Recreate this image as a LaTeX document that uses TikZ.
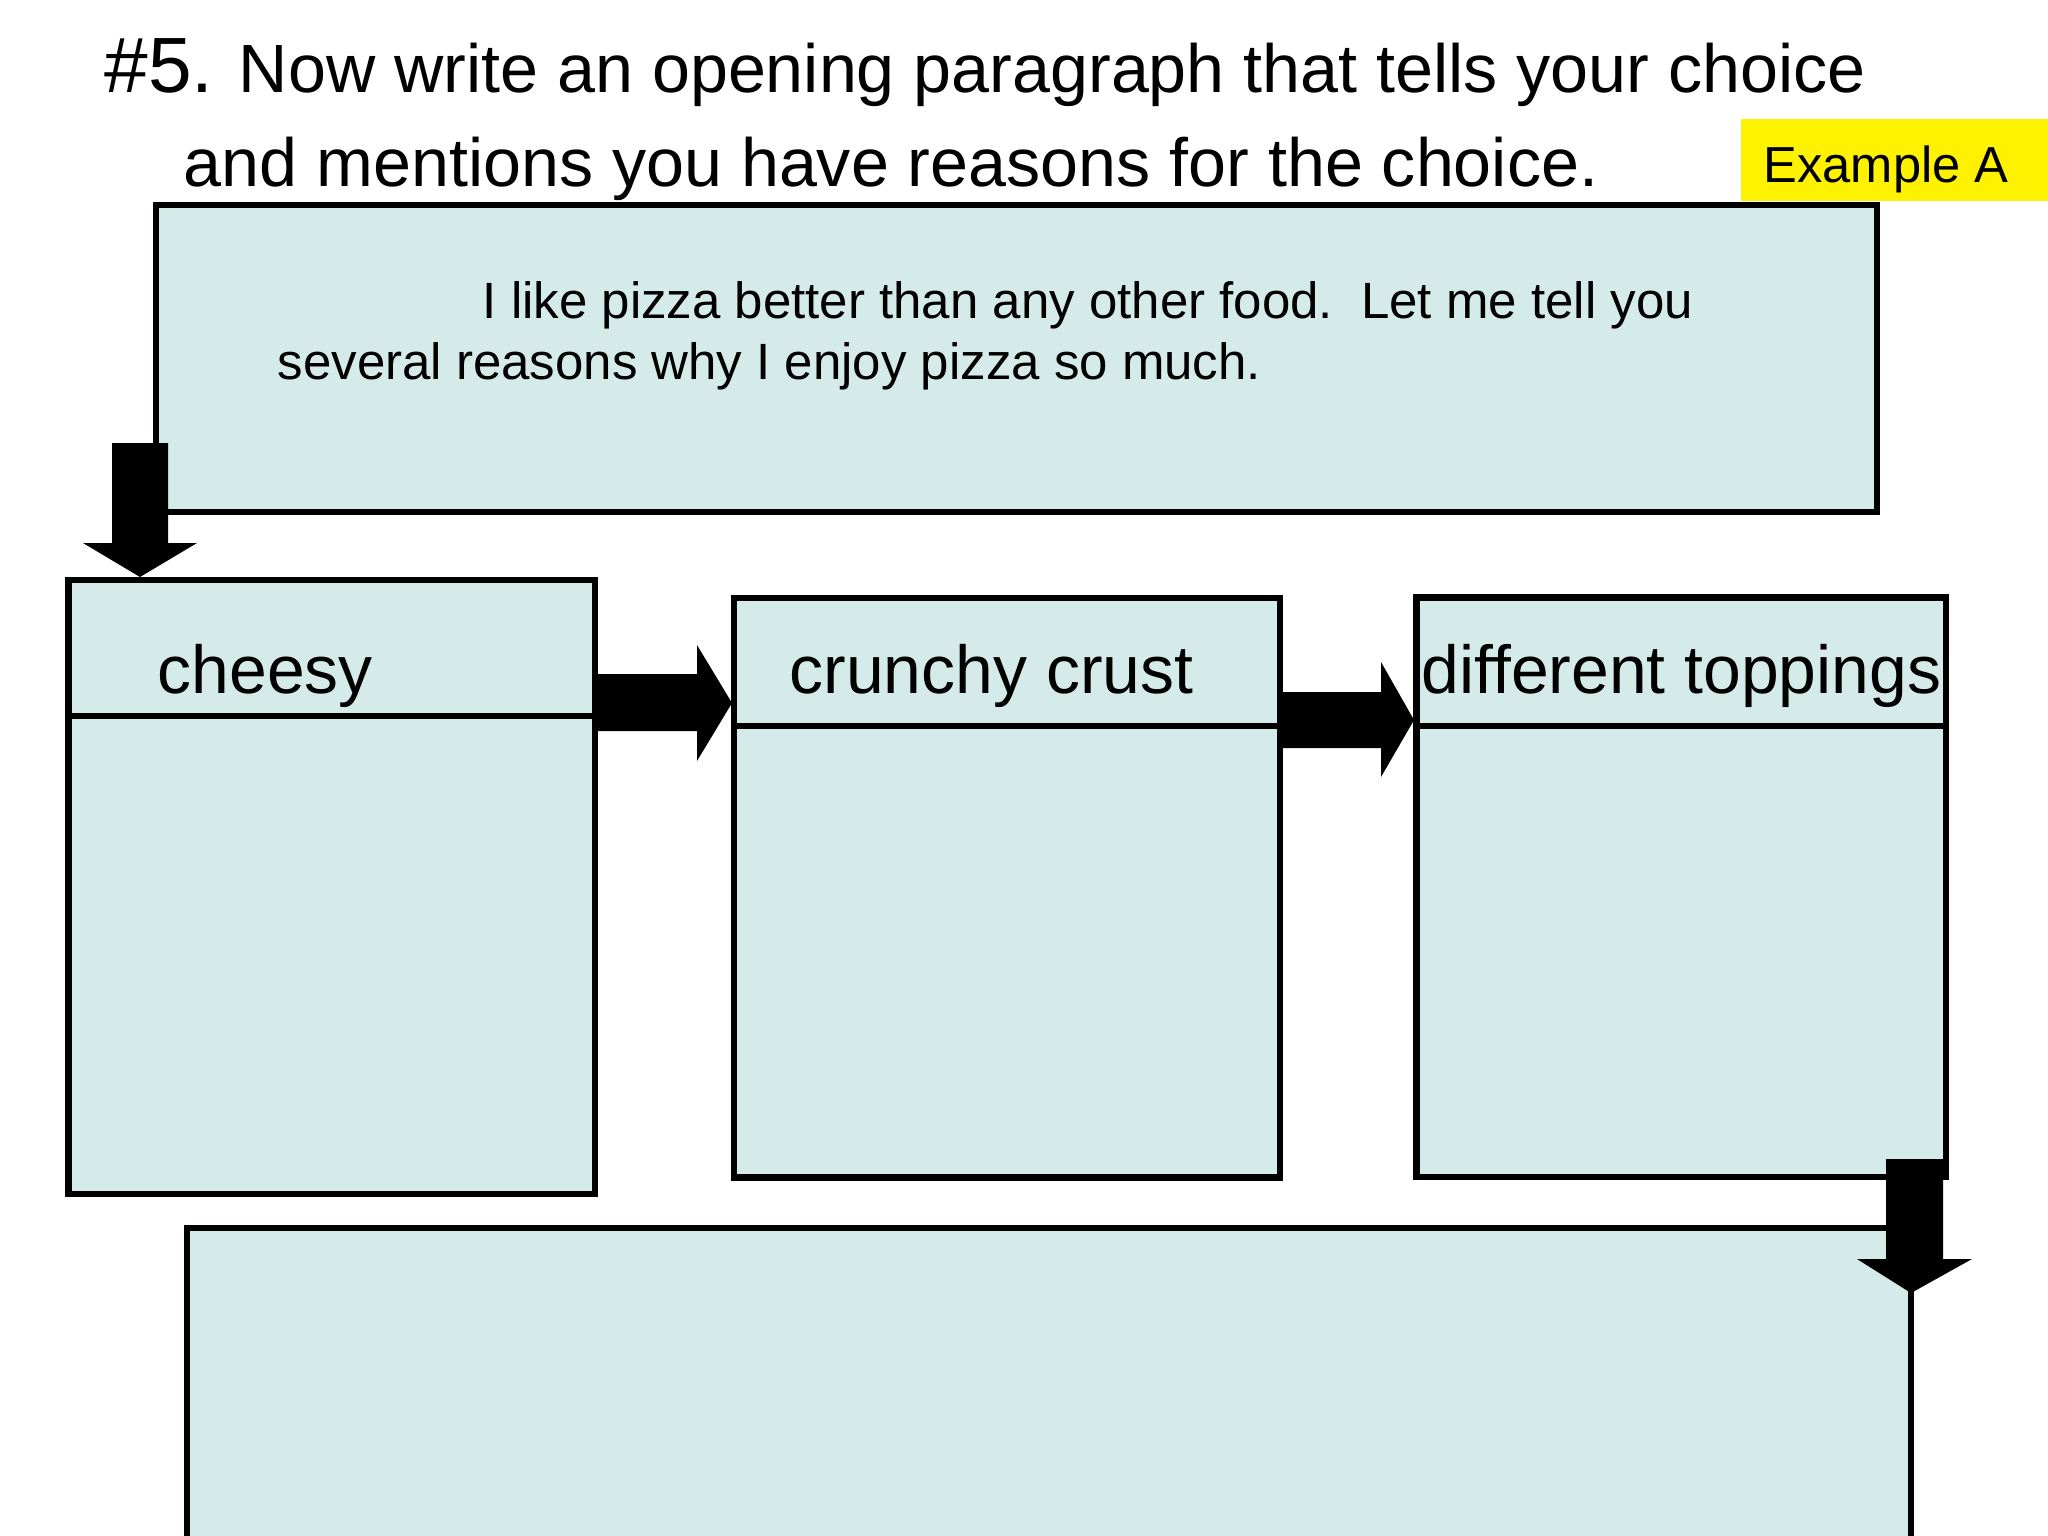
\documentclass[tikz,border=0pt]{standalone}
\usepackage{fontspec}
\setmainfont{Liberation Sans}
\usetikzlibrary{fit}
\definecolor{boxfill}{RGB}{212,235,233}
\begin{document}
\begin{tikzpicture}[x=0.01cm,y=-0.01cm,
  box/.style={draw=black, fill=boxfill, line width=0.065cm, inner sep=0pt, outer sep=0pt},
  sepline/.style={draw=black, line width=0.065cm},
  blockarrow/.style={fill=black, draw=none},
  titletext/.style={font=\fontsize{19.4}{23}\selectfont, anchor=base west, inner sep=0pt},
  bodytext/.style={font=\fontsize{14.5}{17}\selectfont, anchor=base west, inner sep=0pt},
  boxlabel/.style={font=\fontsize{19.3}{23}\selectfont, anchor=base west, inner sep=0pt}]
\useasboundingbox (0,0) rectangle (2048,1536);
\fill[white] (0,0) rectangle (2048,1536);

% title
\node[titletext] (t1) at (104,92) {{\fontsize{22.3}{26}\selectfont\#5.} Now write an opening paragraph that tells your choice};
\node[titletext] (t2) at (183,186) {and mentions you have reasons for the choice.};

% Example A
\node[fill=yellow, inner sep=0pt, fit={(1741,119) (2060,201)}] (exbox) {};
\node[bodytext, font=\fontsize{14.4}{17}\selectfont] (extext) at (1763,182) {Example A};

% boxes
\node[box, fit={(156,205) (1877,512)}] (top) {};
\node[bodytext] (b1) at (482,318) {I like pizza better than any other food.\ \ Let me tell you};
\node[bodytext] (b2) at (277,379) {several reasons why I enjoy pizza so much.};

\node[box, fit={(68.5,580) (595,1194)}] (cheesy) {};
\draw[sepline] (cheesy.west |- 0,716) -- (cheesy.east |- 0,716);
\node[boxlabel] (l1) at (157,693) {cheesy};

\node[box, fit={(734,598) (1280,1177.5)}] (crunchy) {};
\draw[sepline] (crunchy.west |- 0,726) -- (crunchy.east |- 0,726);
\node[boxlabel] (l2) at (789,693) {crunchy crust};

\node[box, fit={(1416.5,597.5) (1946,1177)}] (toppings) {};
\draw[sepline] (toppings.west |- 0,726) -- (toppings.east |- 0,726);
\node[boxlabel] (l3) at (1421,693) {different toppings};

\node[box, fit={(187,1228) (1911,1560)}] (bottom) {};

% block arrows
\coordinate (a1tip) at (140,577);
\fill[blockarrow] (112,443) -- (168,443) -- (168,543) -- (197,543) -- (a1tip) -- (83,543) -- (112,543) -- cycle;

\coordinate (a2tip) at (732,703);
\fill[blockarrow] (cheesy.east |- 0,674) -- (697,674) -- (697,645) -- (a2tip) -- (697,761) -- (697,731) -- (cheesy.east |- 0,731) -- cycle;

\coordinate (a3tip) at (1414,720);
\fill[blockarrow] (crunchy.east |- 0,692) -- (1381,692) -- (1381,662) -- (a3tip) -- (1381,777) -- (1381,748) -- (crunchy.east |- 0,748) -- cycle;

\coordinate (a4tip) at (1911,1293);
\fill[blockarrow] (1886,1159) -- (1943,1159) -- (1943,1259) -- (1972,1259) -- (a4tip) -- (1857,1259) -- (1886,1259) -- cycle;
\end{tikzpicture}
\end{document}
